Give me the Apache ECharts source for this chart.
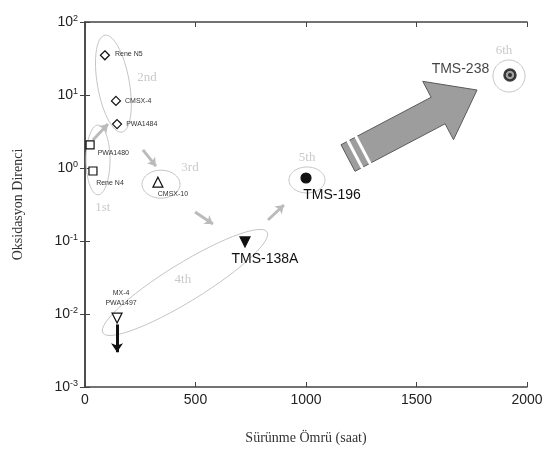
<!DOCTYPE html>
<html>
<head>
	<meta charset="utf-8">
	<title>Oksidasyon Direnci - Sürünme Ömrü</title>
</head>
<body style="margin:0;background:#fff;">
	<div style="width:556px;height:454px;" id="chart1"></div>

	<script src="https://cdn.jsdelivr.net/npm/echarts@6/dist/echarts.min.js"></script>
	<script>
	// alaşım noktaları: [sürünme ömrü (saat), oksidasyon direnci]
	var diamonds = [['Rene N5', 90, 35], ['CMSX-4', 140, 8.3], ['PWA1484', 145, 4.0]];
	var squares = [['PWA1480', 23, 2.07], ['Rene N4', 36, 0.91]];
	var triUp = [['CMSX-10', 330, 0.64]];
	var triDownOpen = [['MX-4\nPWA1497', 145, 0.0088]];
	var triDownFilled = [['TMS-138A', 724, 0.097]];
	var dotFilled = [['TMS-196', 1000, 0.73]];
	var ringDot = [['TMS-238', 1923, 18.8]];

	// nesil etiketleri
	var genLabels = [['1st', 81, 0.29], ['2nd', 281, 17.1], ['3rd', 475, 1.0], ['4th', 443, 0.030], ['5th', 1005, 1.37], ['6th', 1896, 40]];
	// nesil elipsleri: büyük eksenin iki ucu [x1, y1, x2, y2]
	var ellipses = [[59, 3.88, 59, 0.43], [90, 66, 167, 3.1], [258, 0.60, 430, 0.60], [81, 0.0055, 824, 0.133], [923, 0.685, 1086, 0.685], [1846, 18.2, 1991, 18.2]];
	var ellipseHalf = [12, 16, 14, 19, 13, 16];
	// nesiller arası oklar
	var genArrows = [[36, 2.42, 104, 4.0], [262, 1.77, 321, 1.06], [498, 0.249, 579, 0.171], [828, 0.194, 900, 0.311]];
	var mxArrow = [[145, 0.0072, 145, 0.0030]];
	var bigArrow = [[1190, 1.37, 1774, 11.7]];

	var xTicks = [0, 500, 1000, 1500, 2000];

	var labelPos = {
		'Rene N5': {position: 'right', distance: 5, offset: [0, -1]},
		'CMSX-4': {position: 'right', distance: 4},
		'PWA1484': {position: 'right', distance: 4},
		'PWA1480': {position: 'right', distance: 3, offset: [0, 8]},
		'Rene N4': {position: 'bottom', distance: 3, offset: [17, -1]},
		'CMSX-10': {position: 'bottom', distance: 2, offset: [15, -1]},
		'MX-4\nPWA1497': {position: 'top', distance: 4, offset: [4, 0]},
		'TMS-138A': {position: 'bottom', distance: 4, offset: [20, 0]},
		'TMS-196': {position: 'bottom', distance: 4, offset: [26, 0]},
		'TMS-238': {position: 'left', distance: 14, offset: [0, -6]}
	};

	function items(arr, big) {
		return arr.map(function (d) {
			var lp = labelPos[d[0]] || {};
			return {
				name: d[0], value: [d[1], d[2]],
				label: {
					show: true, formatter: '{b}',
					position: lp.position, distance: lp.distance, offset: lp.offset || [0, 0],
					fontFamily: 'Liberation Sans, Arial', fontSize: big ? 14 : 7,
					color: big ? '#111' : '#333', lineHeight: big ? 16 : 10
				}
			};
		});
	}

	function markerSeries(arr, symbol, size, fill, big, rotate) {
		return {
			type: 'scatter', symbol: symbol, symbolSize: size, symbolRotate: rotate || 0,
			itemStyle: {color: fill, borderColor: '#111', borderWidth: 1.2, opacity: 1},
			data: items(arr, big), z: 5
		};
	}

	function supLabel(v) {
		var e = Math.round(Math.log10(v));
		return '{b|10}{s|' + e + '}';
	}

	var chart = echarts.init(document.getElementById('chart1'));
	var axisLine = {show: true, lineStyle: {color: '#444', width: 1.5}};
	var option = {
		animation: false,
		grid: {left: 85, right: 29, top: 22, bottom: 67},
		xAxis: [{
			type: 'value', min: 0, max: 2000, interval: 500,
			name: 'Sürünme Ömrü (saat)', nameLocation: 'middle', nameGap: 44,
			nameTextStyle: {fontFamily: 'Liberation Serif, Times New Roman', fontSize: 14, color: '#333'},
			axisLine: axisLine, axisTick: {inside: true, length: 5, lineStyle: {color: '#444'}},
			axisLabel: {margin: 6, fontFamily: 'Liberation Sans, Arial', fontSize: 14, color: '#222',
				formatter: function (v) { return xTicks.indexOf(v) >= 0 ? String(v) : ''; }},
			splitLine: {show: false}
		}, {
			type: 'value', position: 'top', min: 0, max: 2000, interval: 500,
			axisLine: axisLine, axisTick: {inside: true, length: 5, lineStyle: {color: '#444'}},
			axisLabel: {show: false}, splitLine: {show: false}
		}],
		yAxis: [{
			type: 'log', logBase: 10, min: 0.001, max: 100,
			name: 'Oksidasyon Direnci', nameLocation: 'middle', nameGap: 60, nameRotate: 90,
			nameTextStyle: {fontFamily: 'Liberation Serif, Times New Roman', fontSize: 14, color: '#333'},
			axisLine: axisLine, axisTick: {inside: true, length: 5, lineStyle: {color: '#444'}},
			axisLabel: {margin: 7, formatter: supLabel, rich: {
				b: {fontFamily: 'Liberation Sans, Arial', fontSize: 14, color: '#222', lineHeight: 16},
				s: {fontFamily: 'Liberation Sans, Arial', fontSize: 9, color: '#222', verticalAlign: 'top', lineHeight: 9, padding: [0, 0, 10, 0]}
			}},
			splitLine: {show: false}, minorTick: {show: false}
		}, {
			type: 'log', logBase: 10, min: 0.001, max: 100, position: 'right',
			axisLine: axisLine, axisTick: {inside: true, length: 5, lineStyle: {color: '#444'}},
			axisLabel: {show: false}, splitLine: {show: false}
		}],
		series: [
			// nesil elipsleri
			{
				type: 'custom', data: ellipses, z: 1, silent: true,
				renderItem: function (params, api) {
					var p1 = api.coord([api.value(0), api.value(1)]);
					var p2 = api.coord([api.value(2), api.value(3)]);
					var cx = (p1[0] + p2[0]) / 2, cy = (p1[1] + p2[1]) / 2;
					var a = Math.hypot(p2[0] - p1[0], p2[1] - p1[1]) / 2;
					var ang = Math.atan2(p2[1] - p1[1], p2[0] - p1[0]);
					var b = ellipseHalf[params.dataIndex];
					var pts = [];
					for (var i = 0; i < 60; i++) {
						var t = i / 60 * Math.PI * 2;
						var ex = a * Math.cos(t), ey = b * Math.sin(t);
						pts.push([cx + ex * Math.cos(ang) - ey * Math.sin(ang), cy + ex * Math.sin(ang) + ey * Math.cos(ang)]);
					}
					return {type: 'polygon', shape: {points: pts}, style: {fill: 'none', stroke: '#c4c4c4', lineWidth: 1}};
				}
			},
			// büyük ok
			{
				type: 'custom', data: bigArrow, z: 2, silent: true,
				renderItem: function (params, api) {
					var t0 = api.coord([api.value(0), api.value(1)]);
					var tip = api.coord([api.value(2), api.value(3)]);
					var L = Math.hypot(tip[0] - t0[0], tip[1] - t0[1]);
					var u = [(tip[0] - t0[0]) / L, (tip[1] - t0[1]) / L];
					var n = [-u[1], u[0]];
					var w = 15, h = 33, hl = 44;
					var base = [tip[0] - u[0] * hl, tip[1] - u[1] * hl];
					function P(p, k) { return [p[0] + n[0] * k, p[1] + n[1] * k]; }
					function A(k) { return [t0[0] + u[0] * k, t0[1] + u[1] * k]; }
					var children = [{
						type: 'polygon',
						shape: {points: [P(t0, w), P(base, w), P(base, h), tip, P(base, -h), P(base, -w), P(t0, -w)]},
						style: {fill: '#9d9d9d', stroke: '#5a5a5a', lineWidth: 1}
					}];
					[8, 17].forEach(function (k) {
						var c = A(k);
						children.push({type: 'line', shape: {x1: P(c, w + 2)[0], y1: P(c, w + 2)[1], x2: P(c, -w - 2)[0], y2: P(c, -w - 2)[1]},
							style: {stroke: '#fff', lineWidth: 3}});
					});
					return {type: 'group', children: children};
				}
			},
			// nesiller arası oklar
			{
				type: 'lines', coordinateSystem: 'cartesian2d', z: 3, silent: true,
				symbol: ['none', 'arrow'], symbolSize: 8,
				lineStyle: {color: '#bbbbbb', width: 3, opacity: 1},
				data: genArrows.map(function (d) { return {coords: [[d[0], d[1]], [d[2], d[3]]]}; })
			},
			{
				type: 'lines', coordinateSystem: 'cartesian2d', z: 3, silent: true,
				symbol: ['none', 'arrow'], symbolSize: 9,
				lineStyle: {color: '#111', width: 3, opacity: 1},
				data: mxArrow.map(function (d) { return {coords: [[d[0], d[1]], [d[2], d[3]]]}; })
			},
			// nesil etiketleri
			{
				type: 'scatter', symbolSize: 0, silent: true, z: 4,
				data: genLabels.map(function (d) { return {name: d[0], value: [d[1], d[2]]}; }),
				label: {show: true, position: 'inside', formatter: '{b}', fontFamily: 'Liberation Serif, Times New Roman', fontSize: 13, color: '#bbbbbb'}
			},
			markerSeries(diamonds, 'diamond', 9, '#fff', false),
			markerSeries(squares, 'rect', 8, '#fff', false),
			markerSeries(triUp, 'triangle', 10, '#fff', false),
			markerSeries(triDownOpen, 'triangle', 10, '#fff', false, 180),
			markerSeries(triDownFilled, 'triangle', 10, '#111', true, 180),
			markerSeries(dotFilled, 'circle', 10, '#111', true),
			{
				type: 'scatter', symbol: 'circle', symbolSize: 11,
				itemStyle: {color: '#888', borderColor: '#111', borderWidth: 2.5},
				data: items(ringDot, true), z: 5
			},
			{
				type: 'scatter', symbol: 'circle', symbolSize: 4, silent: true,
				itemStyle: {color: '#111'}, z: 6,
				data: ringDot.map(function (d) { return [d[1], d[2]]; })
			}
		]
	};
	chart.setOption(option);
	</script>
</body>
</html>
